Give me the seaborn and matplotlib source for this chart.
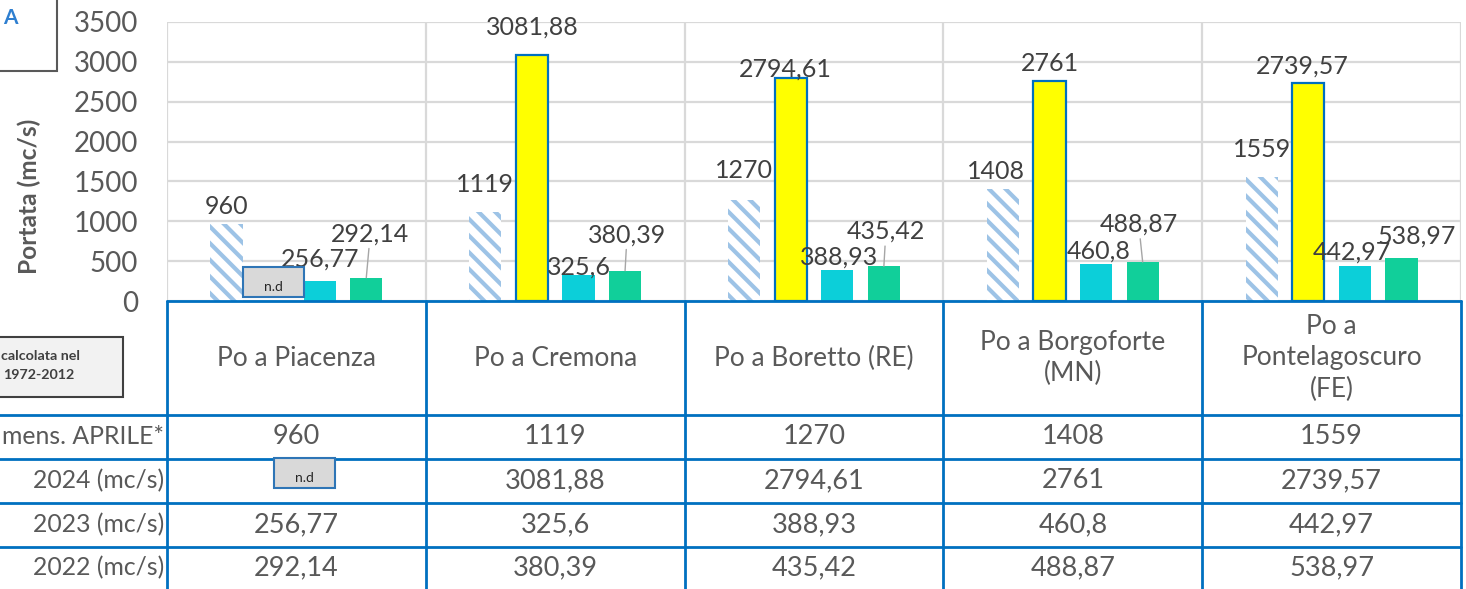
import pandas as pd
import matplotlib.pyplot as plt
from matplotlib.patches import Rectangle
import seaborn as sns

# dati (portate in mc/s)
stazioni = ['Po a Piacenza', 'Po a Cremona', 'Po a Boretto (RE)', 'Po a Borgoforte (MN)', 'Po a Pontelagoscuro (FE)']
intestazioni = ['Po a Piacenza', 'Po a Cremona', 'Po a Boretto (RE)', 'Po a Borgoforte\n(MN)', 'Po a\nPontelagoscuro\n(FE)']
serie = ['mens. APRILE*', '2024 (mc/s)', '2023 (mc/s)', '2022 (mc/s)']
media_aprile = [960, 1119, 1270, 1408, 1559]
portata_2024 = [0, 3081.88, 2794.61, 2761, 2739.57]
portata_2023 = [256.77, 325.6, 388.93, 460.8, 442.97]
portata_2022 = [292.14, 380.39, 435.42, 488.87, 538.97]
yticks = [0, 500, 1000, 1500, 2000, 2500, 3000, 3500]

# spostamento manuale delle etichette (pixel), come nel grafico Excel
label_off = [
    [(0, 18), (0, 27), (0, 29), (-7, 17), (0, 27)],
    [None, (0, 28), (-5, 9), (0, 17), (-6, 17)],
    [(0, 21), (0, 8), (2, 13), (3, 13), (-3, 14)],
    [(4, 44), (2, 36), (2, 35), (-4, 38), (15, 22)],
]

sns.set_style('white')
plt.rcParams['font.family'] = ['Lato', 'DejaVu Sans']
plt.rcParams['hatch.linewidth'] = 3

W, H = 1466, 589
fig = plt.figure(figsize=(W / 100, H / 100), dpi=100)

# area del grafico in pixel: x 167-1461, y 22-301
ax = fig.add_axes([167 / W, 1 - 301 / H, (1461 - 167) / W, (301 - 22) / H])

df = pd.DataFrame({
    'stazione': stazioni * 4,
    'serie': [s for s in serie for _ in stazioni],
    'portata': media_aprile + portata_2024 + portata_2023 + portata_2022,
})
colori = ['#9DC3E6', '#FFFF00', '#0CCFD9', '#11CF9A']
sns.barplot(data=df, x='stazione', y='portata', hue='serie', hue_order=serie,
            palette=colori, width=0.72, gap=0.31, legend=False, ax=ax, zorder=3)

for i, cont in enumerate(ax.containers):
    for j, bar in enumerate(cont):
        if i == 0:
            bar.set_facecolor('white')
            bar.set_edgecolor('#9DC3E6')
            bar.set_hatch('\\\\')
            bar.set_linewidth(0)
        elif i == 1:
            bar.set_facecolor('#FFFF00')
            bar.set_edgecolor('#0070C0')
            bar.set_linewidth(1.6)
            if bar.get_height() == 0:
                bar.set_visible(False)
        else:
            bar.set_facecolor(colori[i])
            bar.set_edgecolor('none')
            bar.set_linewidth(0)
        off = label_off[i][j]
        if off is None:
            continue
        v = bar.get_height()
        testo = f'{v:g}'.replace('.', ',')
        xc = bar.get_x() + bar.get_width() / 2
        kw = {}
        if i == 3 and off[1] > 30:
            kw['arrowprops'] = dict(arrowstyle='-', color='#A6A6A6', lw=1, shrinkA=0, shrinkB=0)
        ax.annotate(testo, xy=(xc, v), xytext=off, textcoords='offset pixels',
                    ha='center', va='center', fontsize=18, color='#404040', zorder=5, **kw)

ax.set_xlim(-0.5, 4.5)
ax.set_ylim(0, 3500)
ax.set_yticks(yticks)
ax.tick_params(axis='y', labelsize=20, labelcolor='#595959', length=0, pad=21)
ax.set_xticks([])
ax.set_xlabel('')
ax.set_ylabel('Portata (mc/s)', fontsize=17.6, fontweight='bold', color='#595959')
ax.yaxis.set_label_coords(-0.097, 0.376)
for y in yticks:
    ax.axhline(y, color='#D9D9D9', lw=1.6, zorder=1)
for k in range(len(stazioni) + 1):
    ax.axvline(k - 0.5, color='#D9D9D9', lw=1.6, zorder=1)
for s in ax.spines.values():
    s.set_visible(False)

# tabella dati sotto il grafico
ax_t = fig.add_axes([167 / W, 0, (1461 - 167) / W, 288 / H])
ax_t.set_xlim(-0.5, 4.5)
ax_t.set_ylim(589, 301)
ax_t.axis('off')
blu = '#0070C0'
righe_y = [415, 458.5, 502.5, 546.5]
x_sin = -0.5 - 170 / 258.8
ax_t.plot([-0.5, 4.5], [301, 301], color=blu, lw=2, clip_on=False)
for y in righe_y:
    ax_t.plot([x_sin, 4.5], [y, y], color=blu, lw=2, clip_on=False)
for k in range(len(stazioni) + 1):
    ax_t.plot([k - 0.5, k - 0.5], [301, 600], color=blu, lw=2, clip_on=False)

for j, nome in enumerate(intestazioni):
    ax_t.text(j, 358, nome, ha='center', va='center', fontsize=19,
              color='#595959', linespacing=1.3)
valori = [media_aprile, portata_2024, portata_2023, portata_2022]
centri_y = [436.5, 480.5, 524.5, 568]
for r, (nome, vals) in enumerate(zip(serie, valori)):
    ax_t.annotate(nome, xy=(-0.5, centri_y[r]), xytext=(-3, 0), textcoords='offset pixels',
                  ha='right', va='center', fontsize=17.8, color='#595959', annotation_clip=False)
    for j, v in enumerate(vals):
        if v == 0:
            continue  # dato non disponibile (coperto dal riquadro n.d)
        ax_t.text(j, centri_y[r], f'{v:g}'.replace('.', ','), ha='center', va='center',
                  fontsize=19.5, color='#595959')

# riquadri e note in pixel della figura
ov = fig.add_axes([0, 0, 1, 1])
ov.set_xlim(0, W)
ov.set_ylim(H, 0)
ov.axis('off')
ov.patch.set_alpha(0)
ov.add_patch(Rectangle((-10, -10), 67, 81, facecolor='white', edgecolor='#595959', lw=1.5))
ov.text(10, 18.5, 'A', ha='center', va='center', fontsize=15, fontweight='bold', color='#2E7FD0')
ov.add_patch(Rectangle((-10, 337), 133, 60, facecolor='#F2F2F2', edgecolor='#404040', lw=1.5))
ov.text(1, 356, 'calcolata nel', ha='left', va='center', fontsize=10.3, fontweight='bold', color='#404040')
ov.text(3, 375, '1972-2012', ha='left', va='center', fontsize=10.3, fontweight='bold', color='#404040')
for (x0, y0) in [(243, 267), (274, 458)]:
    ov.add_patch(Rectangle((x0, y0), 61, 30, facecolor='#D9D9D9', edgecolor='#2E75B6', lw=1.5))
    ov.text(x0 + 30.5, y0 + 20, 'n.d', ha='center', va='center', fontsize=10, color='#262626')

fig.savefig('out.png', dpi=100, facecolor='white')
